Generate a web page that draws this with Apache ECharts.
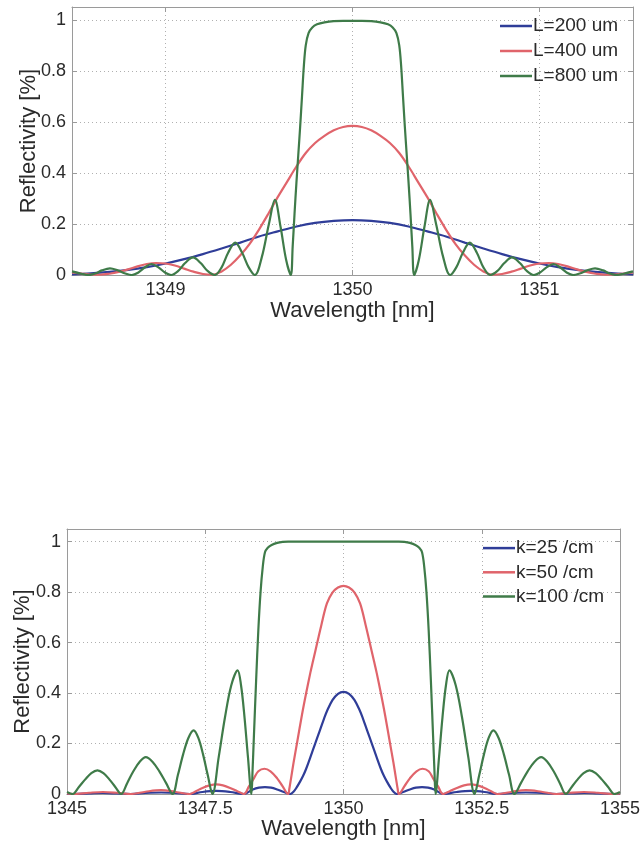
<!DOCTYPE html>
<html>
<head>
<meta charset="utf-8">
<script src="https://cdn.jsdelivr.net/npm/echarts@6/dist/echarts.min.js"></script>
<style>
html,body{margin:0;padding:0;background:#fff;}
#chart{width:642px;height:844px;}
</style>
</head>
<body>
<div id="chart"></div>
<script>
// ---------- tick labels ----------
const xTicksTop = [1349, 1350, 1351];
const xTicksBot = [1345, 1347.5, 1350, 1352.5, 1355];
const yTicks = [0, 0.2, 0.4, 0.6, 0.8, 1];

// ---------- top chart: grating length ----------
const namesTop = ['L=200 um', 'L=400 um', 'L=800 um'];

const wlL200 = [1348.5,1348.6,1348.7,1348.8,1348.9,1349.0,1349.1,1349.2,1349.3,1349.4,1349.5,1349.6,1349.7,1349.8,1349.9,1350.0,1350.1,1350.2,1350.3,1350.4,1350.5,1350.6,1350.7,1350.8,1350.9,1351.0,1351.1,1351.2,1351.3,1351.4,1351.5];
const rL200 = [0.002,0.006,0.012,0.02,0.031,0.045,0.062,0.082,0.104,0.127,0.151,0.171,0.19,0.204,0.212,0.215,0.212,0.204,0.19,0.171,0.151,0.127,0.104,0.082,0.062,0.045,0.031,0.02,0.012,0.006,0.002];

const wlL400 = [1348.5,1348.55,1348.6,1348.65,1348.7,1348.75,1348.8,1348.85,1348.9,1348.95,1349.0,1349.05,1349.1,1349.15,1349.2,1349.25,1349.3,1349.35,1349.4,1349.45,1349.5,1349.55,1349.6,1349.65,1349.7,1349.75,1349.8,1349.85,1349.9,1349.95,1350.0,1350.05,1350.1,1350.15,1350.2,1350.25,1350.3,1350.35,1350.4,1350.45,1350.5,1350.55,1350.6,1350.65,1350.7,1350.75,1350.8,1350.85,1350.9,1350.95,1351.0,1351.05,1351.1,1351.15,1351.2,1351.25,1351.3,1351.35,1351.4,1351.45,1351.5];
const rL400 = [0.01,0.006,0.002,0.001,0.005,0.012,0.022,0.034,0.043,0.047,0.045,0.037,0.025,0.013,0.004,0.001,0.014,0.04,0.077,0.122,0.178,0.24,0.305,0.365,0.425,0.478,0.517,0.545,0.567,0.58,0.584,0.58,0.567,0.545,0.517,0.478,0.425,0.365,0.305,0.24,0.178,0.122,0.077,0.04,0.014,0.001,0.004,0.013,0.025,0.037,0.045,0.047,0.043,0.034,0.022,0.012,0.005,0.001,0.002,0.006,0.01];

const wlL800 = [1348.5,1348.55,1348.59,1348.625,1348.66,1348.703,1348.745,1348.785,1348.82,1348.855,1348.888,1348.925,1348.964,1348.997,1349.03,1349.068,1349.105,1349.147,1349.188,1349.225,1349.263,1349.3,1349.335,1349.373,1349.41,1349.445,1349.478,1349.515,1349.553,1349.585,1349.615,1349.645,1349.67,1349.68,1349.69,1349.7,1349.71,1349.72,1349.73,1349.74,1349.75,1349.765,1349.785,1349.81,1349.85,1349.9,1349.95,1350.0,1350.05,1350.1,1350.15,1350.19,1350.215,1350.235,1350.25,1350.26,1350.27,1350.28,1350.29,1350.3,1350.31,1350.32,1350.33,1350.355,1350.385,1350.415,1350.447,1350.485,1350.522,1350.555,1350.59,1350.627,1350.665,1350.7,1350.737,1350.775,1350.812,1350.853,1350.895,1350.932,1350.97,1351.003,1351.036,1351.075,1351.112,1351.145,1351.18,1351.215,1351.255,1351.297,1351.34,1351.375,1351.41,1351.45,1351.5];
const rL800 = [0.014,0.005,0,0.006,0.018,0.026,0.018,0.006,0,0.01,0.029,0.043,0.029,0.01,0,0.016,0.047,0.069,0.047,0.016,0,0.03,0.087,0.127,0.087,0.03,0,0.07,0.2,0.294,0.19,0.06,0,0.11,0.24,0.36,0.47,0.58,0.7,0.82,0.9,0.948,0.97,0.982,0.99,0.995,0.996,0.996,0.996,0.995,0.99,0.982,0.97,0.948,0.9,0.82,0.7,0.58,0.47,0.36,0.24,0.11,0,0.06,0.19,0.294,0.2,0.07,0,0.03,0.087,0.127,0.087,0.03,0,0.016,0.047,0.069,0.047,0.016,0,0.01,0.029,0.043,0.029,0.01,0,0.006,0.018,0.026,0.018,0.006,0,0.005,0.014];

// ---------- bottom chart: coupling coefficient ----------
const namesBot = ['k=25 /cm', 'k=50 /cm', 'k=100 /cm'];

const wlK25 = [1345,1345.12,1345.4,1345.65,1345.9,1346.15,1346.42,1346.7,1346.95,1347.22,1347.45,1347.7,1347.95,1348.2,1348.28,1348.36,1348.47,1348.58,1348.69,1348.8,1348.92,1349.035,1349.1,1349.15,1349.217,1349.27,1349.325,1349.4,1349.488,1349.57,1349.65,1349.7,1349.8,1349.9,1350,1350.1,1350.2,1350.3,1350.35,1350.43,1350.512,1350.6,1350.675,1350.73,1350.783,1350.85,1350.9,1350.965,1351.08,1351.2,1351.31,1351.42,1351.53,1351.64,1351.72,1351.8,1352.05,1352.3,1352.55,1352.78,1353.05,1353.3,1353.58,1353.85,1354.1,1354.35,1354.6,1354.88,1355];
const rK25 = [0.001,0,0.002,0.004,0.002,0,0.004,0.006,0.004,0,0.008,0.012,0.008,0,0.008,0.018,0.025,0.027,0.025,0.018,0.008,0,0.01,0.025,0.05,0.072,0.1,0.145,0.2,0.25,0.3,0.328,0.372,0.397,0.405,0.397,0.372,0.328,0.3,0.25,0.2,0.145,0.1,0.072,0.05,0.025,0.01,0,0.008,0.018,0.025,0.027,0.025,0.018,0.008,0,0.008,0.012,0.008,0,0.004,0.006,0.004,0,0.002,0.004,0.002,0,0.001];

const wlK50 = [1345,1345.12,1345.4,1345.65,1345.9,1346.15,1346.42,1346.7,1346.95,1347.22,1347.33,1347.45,1347.58,1347.7,1347.82,1347.95,1348.08,1348.2,1348.29,1348.38,1348.46,1348.57,1348.68,1348.8,1348.9,1349,1349.02,1349.05,1349.1,1349.158,1349.25,1349.325,1349.4,1349.45,1349.53,1349.6,1349.7,1349.8,1349.9,1350,1350.1,1350.2,1350.3,1350.4,1350.47,1350.55,1350.6,1350.675,1350.75,1350.842,1350.9,1350.95,1350.98,1351,1351.1,1351.2,1351.32,1351.43,1351.54,1351.62,1351.71,1351.8,1351.92,1352.05,1352.18,1352.3,1352.42,1352.55,1352.67,1352.78,1353.05,1353.3,1353.58,1353.85,1354.1,1354.35,1354.6,1354.88,1355];
const rK50 = [0.002,0,0.005,0.008,0.005,0,0.009,0.015,0.009,0,0.011,0.024,0.034,0.038,0.034,0.024,0.011,0,0.03,0.062,0.09,0.1,0.09,0.062,0.03,0,0.02,0.06,0.128,0.2,0.315,0.4,0.48,0.528,0.604,0.67,0.755,0.798,0.818,0.825,0.818,0.798,0.755,0.67,0.604,0.528,0.48,0.4,0.315,0.2,0.128,0.06,0.02,0,0.03,0.062,0.09,0.1,0.09,0.062,0.03,0,0.011,0.024,0.034,0.038,0.034,0.024,0.011,0,0.009,0.015,0.009,0,0.005,0.008,0.005,0,0.002];

const wlK100 = [1345,1345.1,1345.215,1345.33,1345.44,1345.55,1345.658,1345.765,1345.873,1345.98,1346.09,1346.2,1346.315,1346.425,1346.545,1346.67,1346.79,1346.91,1347.005,1347.1,1347.195,1347.29,1347.375,1347.46,1347.545,1347.63,1347.744,1347.857,1347.971,1348.085,1348.147,1348.21,1348.272,1348.335,1348.355,1348.38,1348.42,1348.46,1348.5,1348.54,1348.58,1348.63,1348.7,1348.8,1348.9,1349,1349.5,1350,1350.5,1351,1351.1,1351.2,1351.3,1351.37,1351.42,1351.46,1351.5,1351.54,1351.58,1351.62,1351.645,1351.665,1351.728,1351.79,1351.853,1351.915,1352.029,1352.143,1352.256,1352.37,1352.455,1352.54,1352.625,1352.71,1352.805,1352.9,1352.995,1353.09,1353.21,1353.33,1353.455,1353.575,1353.685,1353.8,1353.91,1354.02,1354.127,1354.235,1354.342,1354.45,1354.56,1354.67,1354.785,1354.9,1355];
const rK100 = [0.008,0,0.028,0.058,0.083,0.094,0.083,0.058,0.028,0,0.044,0.09,0.128,0.146,0.128,0.09,0.044,0,0.075,0.157,0.222,0.252,0.222,0.157,0.075,0,0.147,0.304,0.431,0.49,0.431,0.304,0.147,0,0.09,0.23,0.45,0.65,0.8,0.9,0.958,0.976,0.987,0.995,0.999,1,1,1,1,1,0.999,0.995,0.987,0.976,0.958,0.9,0.8,0.65,0.45,0.23,0.09,0,0.147,0.304,0.431,0.49,0.431,0.304,0.147,0,0.075,0.157,0.222,0.252,0.222,0.157,0.075,0,0.044,0.09,0.128,0.146,0.128,0.09,0.044,0,0.028,0.058,0.083,0.094,0.083,0.058,0.028,0,0.008];

// ---------- styling ----------
const COLORS = ['#2f3d98', '#e0646b', '#3f7b49'];
const FONT = 'Liberation Sans, Arial, Helvetica, sans-serif';
const TEXT = '#2a2a2a';
const FRAME = '#9a9a9a';

function zip(xs, ys) { return xs.map((x, i) => [x, ys[i]]); }
const plain = v => String(v);

function mainX(grid, min, max, ticks, gap) {
  return {
    type: 'value', gridIndex: grid, min: min, max: max, position: 'bottom',
    axisLine: { show: true, onZero: false, lineStyle: { color: FRAME, width: 1 } },
    axisTick: { show: true, inside: true, length: 5, customValues: ticks, lineStyle: { color: FRAME } },
    axisLabel: { customValues: ticks, formatter: plain, fontSize: 18, color: TEXT, fontFamily: FONT, margin: 6, hideOverlap: false },
    splitLine: { show: true, lineStyle: { type: [1, 3], color: '#b0b0b0', width: 1 } },
    name: 'Wavelength [nm]', nameLocation: 'middle', nameGap: gap, nameMoveOverlap: false,
    nameTextStyle: { fontSize: 22, color: TEXT, fontFamily: FONT, verticalAlign: 'top' }
  };
}
function mirrorX(grid, min, max, ticks) {
  return {
    type: 'value', gridIndex: grid, min: min, max: max, position: 'top',
    axisLine: { show: true, onZero: false, lineStyle: { color: FRAME, width: 1 } },
    axisTick: { show: true, inside: true, length: 5, customValues: ticks, lineStyle: { color: FRAME } },
    axisLabel: { show: false }, splitLine: { show: false }
  };
}
function mainY(grid, gap) {
  return {
    type: 'value', gridIndex: grid, min: 0, max: 1.05, position: 'left',
    axisLine: { show: true, onZero: false, lineStyle: { color: FRAME, width: 1 } },
    axisTick: { show: true, inside: true, length: 5, customValues: yTicks, lineStyle: { color: FRAME } },
    axisLabel: { customValues: yTicks, formatter: plain, fontSize: 18, color: TEXT, fontFamily: FONT, margin: 6 },
    splitLine: { show: true, lineStyle: { type: [1, 3], color: '#b0b0b0', width: 1 } },
    name: 'Reflectivity [%]', nameLocation: 'middle', nameGap: gap, nameMoveOverlap: false,
    nameTextStyle: { fontSize: 22, color: TEXT, fontFamily: FONT }
  };
}
function mirrorY(grid) {
  return {
    type: 'value', gridIndex: grid, min: 0, max: 1.05, position: 'right',
    axisLine: { show: true, onZero: false, lineStyle: { color: FRAME, width: 1 } },
    axisTick: { show: true, inside: true, length: 5, customValues: yTicks, lineStyle: { color: FRAME } },
    axisLabel: { show: false }, splitLine: { show: false }
  };
}
function line(name, xs, ys, color, xi, yi) {
  return {
    type: 'line', name: name, xAxisIndex: xi, yAxisIndex: yi,
    data: zip(xs, ys), showSymbol: false, symbol: 'none', smooth: 0.35,
    lineStyle: { color: color, width: 2.2 }, itemStyle: { color: color },
    emphasis: { disabled: true }
  };
}
function legend(names, left, top, lh) {
  return {
    data: names, orient: 'vertical', left: left, top: top, padding: 0,
    icon: 'rect', itemWidth: 32, itemHeight: 2.5, itemGap: 0,
    textStyle: { fontSize: 19, color: TEXT, fontFamily: FONT, lineHeight: lh, padding: [0, 0, 0, -4] },
    selectedMode: false
  };
}

const chart = echarts.init(document.getElementById('chart'), null, { renderer: 'canvas' });
chart.setOption({
  animation: false,
  backgroundColor: '#ffffff',
  grid: [
    { left: 72, right: 9, top: 7, height: 268, outerBoundsMode: 'none', containLabel: false },
    { left: 67, right: 22, top: 529, height: 265, outerBoundsMode: 'none', containLabel: false }
  ],
  xAxis: [
    mainX(0, 1348.5, 1351.5, xTicksTop, 25),
    mirrorX(0, 1348.5, 1351.5, xTicksTop),
    mainX(1, 1345, 1355, xTicksBot, 24),
    mirrorX(1, 1345, 1355, xTicksBot)
  ],
  yAxis: [
    mainY(0, 32), mirrorY(0),
    mainY(1, 33), mirrorY(1)
  ],
  legend: [
    legend(namesTop, 500, 13.5, 25),
    legend(namesBot, 483, 536, 24.2)
  ],
  series: [
    line(namesTop[0], wlL200, rL200, COLORS[0], 0, 0),
    line(namesTop[1], wlL400, rL400, COLORS[1], 0, 0),
    line(namesTop[2], wlL800, rL800, COLORS[2], 0, 0),
    line(namesBot[0], wlK25, rK25, COLORS[0], 2, 2),
    line(namesBot[1], wlK50, rK50, COLORS[1], 2, 2),
    line(namesBot[2], wlK100, rK100, COLORS[2], 2, 2)
  ]
});
</script>
</body>
</html>
